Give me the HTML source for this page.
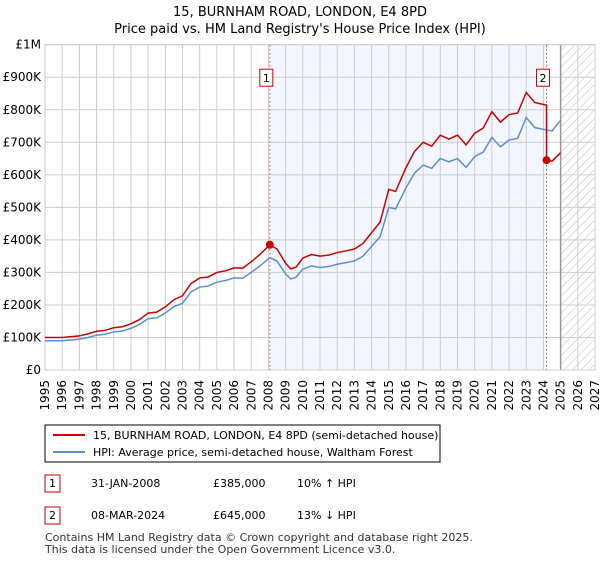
<!DOCTYPE html>
<html><head><meta charset="utf-8"><style>
body{margin:0;background:#fff;font-family:"Liberation Sans","DejaVu Sans",sans-serif;}
svg text{font-family:"DejaVu Sans","Liberation Sans",sans-serif;}
</style></head><body>
<svg id="c" width="600" height="560" xmlns="http://www.w3.org/2000/svg">
<defs><pattern id="hatch" width="6" height="6" patternUnits="userSpaceOnUse" patternTransform="rotate(45)"><line x1="0" y1="0" x2="0" y2="6" stroke="#bbb" stroke-width="1"/></pattern></defs>
<text x="300" y="16" text-anchor="middle" font-size="13">15, BURNHAM ROAD, LONDON, E4 8PD</text>
<text x="300" y="33" text-anchor="middle" font-size="13">Price paid vs. HM Land Registry's House Price Index (HPI)</text>
<g id="plot"></g>
<g>
<rect x="45" y="425" width="395" height="37" fill="#fff" stroke="#000" stroke-width="1"/>
<line x1="53" y1="435" x2="85" y2="435" stroke="#cc0000" stroke-width="2"/>
<text x="93" y="439" font-size="11">15, BURNHAM ROAD, LONDON, E4 8PD (semi-detached house)</text>
<line x1="53" y1="452" x2="85" y2="452" stroke="#5b8fd0" stroke-width="2"/>
<text x="93" y="456" font-size="11">HPI: Average price, semi-detached house, Waltham Forest</text>
</g>
<g font-size="11">
<rect x="45" y="475" width="15" height="17" fill="#fff" stroke="#cc0000"/><text x="52.5" y="487" text-anchor="middle">1</text>
<text x="91" y="487">31-JAN-2008</text><text x="213" y="487">£385,000</text><text x="297" y="487">10% ↑ HPI</text>
<rect x="45" y="507" width="15" height="17" fill="#fff" stroke="#cc0000"/><text x="52.5" y="519" text-anchor="middle">2</text>
<text x="91" y="519">08-MAR-2024</text><text x="213" y="519">£645,000</text><text x="297" y="519">13% ↓ HPI</text>
</g>
<text x="45" y="541" font-size="11" fill="#333">Contains HM Land Registry data © Crown copyright and database right 2025.</text>
<text x="45" y="553" font-size="11" fill="#333">This data is licensed under the Open Government Licence v3.0.</text>
</svg>
<script>
const dates=[1995,1996,1997,1997.5,1998,1998.5,1999,1999.5,2000,2000.5,2001,2001.5,2002,2002.5,2003,2003.5,2004,2004.5,2005,2005.5,2006,2006.5,2007,2007.5,2008.08,2008.5,2009,2009.3,2009.6,2010,2010.5,2011,2011.5,2012,2012.5,2013,2013.5,2014,2014.5,2015,2015.4,2016,2016.5,2017,2017.5,2018,2018.5,2019,2019.5,2020,2020.5,2021,2021.5,2022,2022.5,2023,2023.5,2024.18,2024.5,2025];
const hpi=[90,90,95,100,107,110,117,120,128,140,158,160,175,195,205,240,255,258,270,275,283,282,300,320,345,335,295,280,285,310,320,315,318,325,330,335,350,380,410,500,495,560,605,630,620,650,640,650,623,656,670,715,686,707,712,776,745,738,735,768];
const paid=[100,100,105,111,119,122,130,133,142,155,175,178,194,216,228,266,283,286,300,305,314,313,333,355,385,372,328,311,316,344,355,350,353,361,366,372,389,422,455,555,549,622,672,700,688,722,710,722,692,728,744,794,762,785,790,853,822,645,642,668];
const sales=[[2008.08,385,"1"],[2024.18,645,"2"]];
const yTicks=[0,100,200,300,400,500,600,700,800,900,1000];
const yLabels=["£0","£100K","£200K","£300K","£400K","£500K","£600K","£700K","£800K","£900K","£1M"];
const L=45,R=595,T=44.7,B=370,X0=1995,X1=2027;
const x=d=>L+(d-X0)/(X1-X0)*(R-L), y=v=>B-v/1000*(B-T);
const g=document.getElementById('plot');const ns="http://www.w3.org/2000/svg";
function mk(t,a,p){const e=document.createElementNS(ns,t);for(const k in a)e.setAttribute(k,a[k]);(p||g).appendChild(e);return e;}
let e=mk('rect',{x:x(sales[0][0]),y:T,width:x(sales[1][0])-x(sales[0][0]),height:B-T,fill:'#f3f6fe'});

e=mk('rect',{x:x(2025),y:T,width:R-x(2025),height:B-T,fill:'url(#hatch)'});

for(let yr=X0;yr<=X1;yr++){e=mk('line',{x1:x(yr),x2:x(yr),y1:T,y2:B,stroke:'#ccc','stroke-width':1});

e=mk('text',{x:x(yr),y:B+6,'font-size':12,'text-anchor':'end',transform:`rotate(-90 ${x(yr)+4} ${B+6})`});e.textContent=yr;
}
yTicks.forEach((v,i)=>{e=mk('line',{x1:L,x2:R,y1:y(v),y2:y(v),stroke:'#ccc','stroke-width':1});

e=mk('text',{x:L-4,y:y(v)+4,'font-size':12,'text-anchor':'end'});e.textContent=yLabels[i];
});
e=mk('line',{x1:x(2025),x2:x(2025),y1:T,y2:B,stroke:'#999','stroke-width':1.5});

e=mk('rect',{x:L,y:T,width:R-L,height:B-T,fill:'none',stroke:'#ccc'});

sales.forEach(s=>{e=mk('line',{x1:x(s[0]),x2:x(s[0]),y1:T,y2:B,stroke:'#e06060','stroke-dasharray':'2,2','stroke-width':1});
});
e=mk('polyline',{points:dates.map((d,i)=>x(d)+','+y(hpi[i])).join(' '),fill:'none',stroke:'#5b8fd0','stroke-width':1.5});

const pts=[];dates.forEach((d,i)=>{if(d===sales[1][0])pts.push(x(d)+','+y(paid[i-1]*hpi[i]/hpi[i-1]));pts.push(x(d)+','+y(paid[i]));});
e=mk('polyline',{points:pts.join(' '),fill:'none',stroke:'#cc0000','stroke-width':1.5});

sales.forEach(s=>{e=mk('circle',{cx:x(s[0]),cy:y(s[1]),r:4,fill:'#cc0000'});

e=mk('rect',{x:x(s[0])-10,y:y(900)-8,width:13,height:17,fill:'#fff',stroke:'#cc0000'});

e=mk('text',{x:x(s[0])-3.5,y:y(900)+5,'font-size':11,'text-anchor':'middle'});e.textContent=s[2];
});
</script>
</body></html>
